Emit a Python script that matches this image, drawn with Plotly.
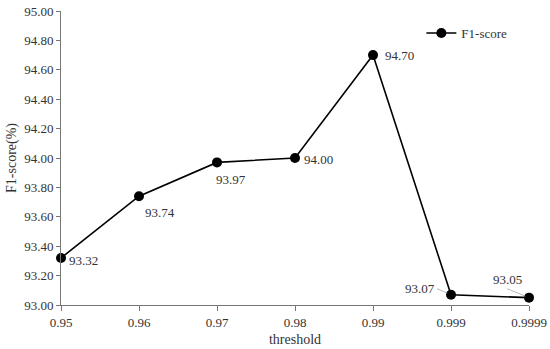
import plotly.graph_objects as go

categories = ["0.95", "0.96", "0.97", "0.98", "0.99", "0.999", "0.9999"]
f1_scores = [93.32, 93.74, 93.97, 94.00, 94.70, 93.07, 93.05]
y_ticks = [93.0, 93.2, 93.4, 93.6, 93.8, 94.0, 94.2, 94.4, 94.6, 94.8, 95.0]

FONT = "Liberation Serif"
xs = list(range(len(categories)))

fig = go.Figure()
fig.add_trace(go.Scatter(
    x=xs, y=f1_scores, mode="lines+markers", name="F1-score",
    line=dict(color="black", width=1.6),
    marker=dict(color="black", size=10),
    cliponaxis=False,
))

# label placement: (xshift, yshift) for plain labels, or arrow (ax, ay, xanchor, yanchor)
plain = {0: (22, -3), 1: (21, -16), 2: (14, -17), 3: (23, -1), 4: (26, 0)}
arrows = {5: (-14, -6, "right", "middle"), 6: (-22, -9, "center", "bottom")}
for i, (x, y) in enumerate(zip(xs, f1_scores)):
    txt = f"{y:.2f}"
    if i in plain:
        xsh, ysh = plain[i]
        fig.add_annotation(x=x, y=y, text=txt, showarrow=False,
                           xshift=xsh, yshift=ysh,
                           font=dict(family=FONT, size=13, color="#333"))
    else:
        ax, ay, xa, ya = arrows[i]
        fig.add_annotation(x=x, y=y, text=txt, showarrow=True,
                           ax=ax, ay=ay, arrowhead=0, arrowwidth=0.8,
                           arrowcolor="#aaa", standoff=4,
                           xanchor=xa, yanchor=ya,
                           font=dict(family=FONT, size=13, color="#333"))

fig.update_layout(
    width=550, height=349,
    margin=dict(l=61, r=21, t=11, b=44),
    paper_bgcolor="white", plot_bgcolor="white",
    font=dict(family=FONT, size=13, color="#333"),
    showlegend=True,
    legend=dict(x=0.77, y=0.925, xanchor="left", yanchor="middle",
                bgcolor="rgba(0,0,0,0)", font=dict(family=FONT, size=13, color="#333")),
    xaxis=dict(
        range=[0, 6], tickvals=xs, ticktext=categories,
        showgrid=False, zeroline=False, automargin=False,
        showline=True, linecolor="#777", linewidth=1,
        ticks="outside", ticklen=5, tickcolor="#777",
        tickfont=dict(family=FONT, size=13, color="#333"),
        title=dict(text="threshold", font=dict(family=FONT, size=14, color="#333"), standoff=5),
    ),
    yaxis=dict(
        range=[93.0, 95.0], tickvals=y_ticks,
        ticktext=[f"{v:.2f}" for v in y_ticks],
        showgrid=False, zeroline=False, automargin=False,
        showline=True, linecolor="#777", linewidth=1,
        ticks="outside", ticklen=4, tickcolor="#777",
        tickfont=dict(family=FONT, size=13, color="#333"),
        title=dict(text="F1-score(%)", font=dict(family=FONT, size=14, color="#333"), standoff=4),
    ),
)

fig.write_html("out.html", config={"displayModeBar": False},
               post_script="document.body.style.margin='0';document.body.style.padding='0';")
